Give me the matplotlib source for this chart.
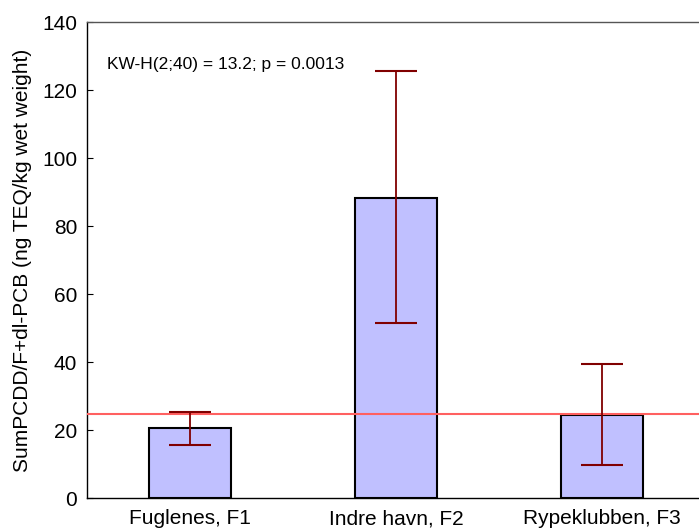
import numpy as np
import matplotlib.pyplot as plt

plt.rcParams['font.family'] = ['Liberation Sans', 'DejaVu Sans']

sites = ['Fuglenes, F1', 'Indre havn, F2', 'Rypeklubben, F3']
means = [20.5, 88.3, 24.5]
err_low = [15.7, 51.4, 9.7]
err_high = [25.3, 125.7, 39.4]
ref_level = 24.8
stat_text = 'KW-H(2;40) = 13.2; p = 0.0013'

fig = plt.figure(figsize=(6.99, 5.30), dpi=100)
# axes runs a bit past the right edge of the figure, like the original
ax = fig.add_axes([87 / 699, 1 - 498 / 530, 618 / 699, 476 / 530])

x = np.arange(len(sites))
m = np.array(means)
yerr = [m - np.array(err_low), np.array(err_high) - m]

ax.bar(x, means, width=0.4, color='#c0c0ff', edgecolor='black', linewidth=1.5, zorder=2)
ax.axhline(ref_level, color='#ff6060', linewidth=1.5, zorder=3)
eb = ax.errorbar(x, means, yerr=yerr, fmt='none', ecolor='#800000', elinewidth=1.3,
                 capsize=15, capthick=1.5, zorder=4)
for cap in eb[1]:
    cap.set_color('#a04040')

ax.set_xlim(-0.5, 2.5)
ax.set_ylim(0, 140)
ax.set_yticks(range(0, 141, 20))
ax.set_xticks(x)
ax.set_xticklabels(sites)
ax.tick_params(direction='in', labelsize=15, length=4)
ax.tick_params(axis='y', pad=7)
ax.tick_params(axis='x', pad=8)
ax.set_ylabel('SumPCDD/F+dl-PCB (ng TEQ/kg wet weight)', fontsize=15, labelpad=7)
ax.text(0.033, 0.91, stat_text, transform=ax.transAxes, fontsize=12.5, va='center')

for s in ['top', 'left', 'bottom']:
    ax.spines[s].set_linewidth(1.0)
ax.spines['top'].set_color('#555555')
ax.spines['right'].set_visible(False)

fig.savefig('out.png', dpi=100)
